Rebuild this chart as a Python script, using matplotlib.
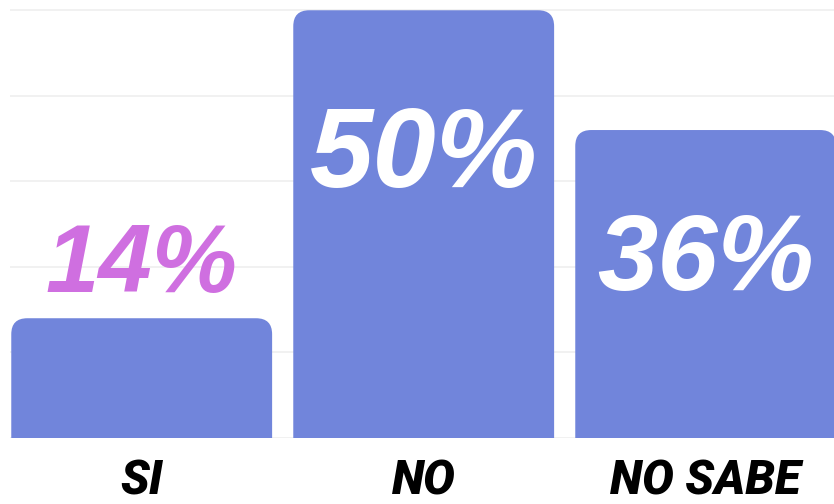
import matplotlib.pyplot as plt
from matplotlib.patches import FancyBboxPatch

# data
categories = ["SI", "NO", "NO SABE"]
values = [14, 50, 36]
labels = ["14%", "50%", "36%"]

bar_color = "#7185db"
label_colors = ["#cf6fe0", "white", "white"]
label_sizes = [69, 82, 78]
label_y = [17.1, 29.3, 17.3]   # baselines of the value labels

fig = plt.figure(figsize=(8.34, 5.04), dpi=100)
ax = fig.add_axes([10 / 834, 66 / 504, 824 / 834, 438 / 504])

xmin, xmax = -0.467, 2.455
ymin, ymax = 0, 51.2
ax.set_xlim(xmin, xmax)
ax.set_ylim(ymin, ymax)

# gridlines behind the bars
for g in [0, 10, 20, 30, 40, 50]:
    ax.axhline(g, color="#efefef", lw=1.2, zorder=0)

# rounded-top bars
w = 0.925
px_x = 824 / (xmax - xmin)
px_y = 438 / (ymax - ymin)
aspect = px_x / px_y
r = 16 / px_x
for i, v in enumerate(values):
    pad_below = r * aspect
    p = FancyBboxPatch((i - w / 2, -pad_below), w, v + pad_below,
                       boxstyle=f"round,pad=0,rounding_size={r}",
                       mutation_aspect=aspect, fc=bar_color, ec="none",
                       zorder=2)
    ax.add_patch(p)
    ax.text(i, label_y[i], labels[i], ha="center", va="baseline",
            color=label_colors[i], fontsize=label_sizes[i],
            family="Liberation Sans", weight="bold", style="italic",
            zorder=3)

ax.set_xticks(range(len(categories)))
ax.set_xticklabels(categories, family="Roboto", weight="black",
                   style="italic", fontsize=34, color="black")
ax.tick_params(axis="x", length=0, pad=15)
ax.set_yticks([])
for s in ax.spines.values():
    s.set_visible(False)

fig.savefig("out.png", dpi=100)
